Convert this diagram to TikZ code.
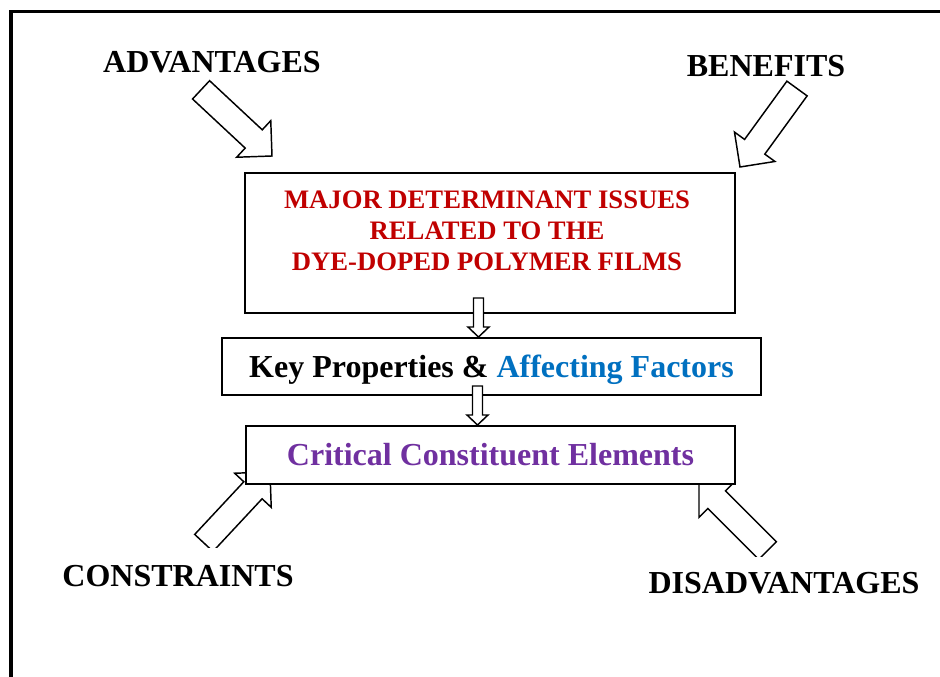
\documentclass[tikz,border=0pt]{standalone}
\usepackage{fontspec}
\setmainfont{Liberation Serif}
\usetikzlibrary{positioning}
\definecolor{issuered}{HTML}{C00000}
\definecolor{factorblue}{HTML}{0070C0}
\definecolor{elempurple}{HTML}{7030A0}

\begin{document}
\begin{tikzpicture}[x=0.75pt,y=-0.75pt,
  heading/.style={font=\bfseries\fontsize{24}{28}\selectfont, inner sep=0pt, anchor=base},
  framebox/.style={draw, line width=1.5pt, fill=white, inner sep=0pt, font=\bfseries\fontsize{24}{28}\selectfont},
  fatarrow/.style={draw, line width=1.1pt, fill=white, line join=miter}]
\useasboundingbox (0,0) rectangle (940,677);
\clip (0,0) rectangle (940,677);
\draw[line width=2.6pt] (11,700) -- (11,11.5) -- (960,11.5);

% big arrows: tip x / tip y / direction / cut
\foreach \tx/\ty/\dir/\cut in {272/156/-43/677, 740/167/234/677, 270/472/47/547, 699/482/135/556} {
	\begin{scope}
	\clip (0,0) rectangle (940,\cut);
	\draw[fatarrow, shift={(\tx,\ty)}, rotate=\dir] (0,0) -- (-25,25) -- (-25,12.5) -- (-97,12.5)
		-- (-97,-12.5) -- (-25,-12.5) -- (-25,-25) -- cycle;
	\end{scope}
}

\node[framebox, minimum width=367.5pt, minimum height=105pt] (issues) at (490,243) {};
\node[issuered, font=\bfseries\fontsize{20}{23.25}\selectfont, align=center] (issuetext) at (487,231)
	{MAJOR DETERMINANT ISSUES\\RELATED TO THE\\DYE-DOPED POLYMER FILMS};
\node[framebox, minimum width=404.25pt, minimum height=42.75pt, text depth=0pt] (props) at (491.5,366.5)
	{Key Properties \& \textcolor{factorblue}{Affecting Factors}};
\node[framebox, minimum width=366.75pt, minimum height=43.5pt, text=elempurple] (elems) at (490.5,455)
	{Critical Constituent Elements};

\foreach \b in {props, elems} {
	\draw[fatarrow] ([xshift=-9.75pt]\b.north) -- ++(-10.5,-10) -- ++(5.5,0) -- ++(0,-29) -- ++(10,0)
		-- ++(0,29) -- ++(5.5,0) -- cycle;
}

\node[heading] (adv) at (212,73) {ADVANTAGES};
\node[heading] (ben) at (766,77) {BENEFITS};
\node[heading] (con) at (178,586) {CONSTRAINTS};
\node[heading] (dis) at (784,594) {DISADVANTAGES};

\end{tikzpicture}
\end{document}
